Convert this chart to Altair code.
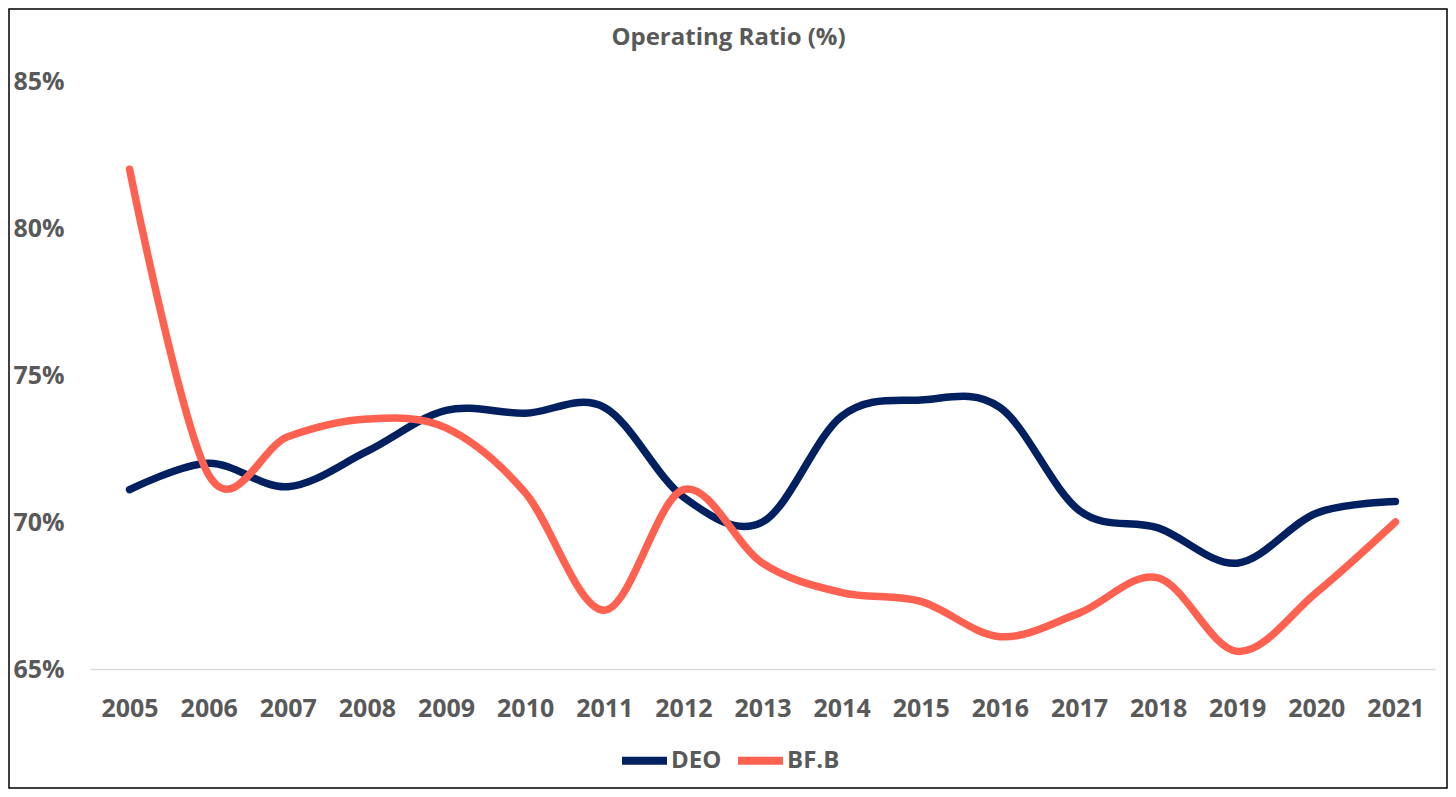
import altair as alt
import pandas as pd

years = ["2005", "2006", "2007", "2008", "2009", "2010", "2011", "2012", "2013",
         "2014", "2015", "2016", "2017", "2018", "2019", "2020", "2021"]
deo = [71.1, 72.0, 71.2, 72.4, 73.8, 73.7, 73.9, 70.85, 70.0,
       73.6, 74.15, 73.9, 70.4, 69.8, 68.6, 70.3, 70.7]
bfb = [82.0, 71.6, 72.9, 73.5, 73.2, 71.0, 67.0, 71.1, 68.6,
       67.6, 67.3, 66.1, 66.9, 68.1, 65.6, 67.6, 70.0]
series = ["DEO", "BF.B"]
colors = ["#002060", "#FF6150"]
y_ticks = [0.65, 0.70, 0.75, 0.80, 0.85]

rows = []
for name, vals in zip(series, [deo, bfb]):
    for yr, v in zip(years, vals):
        rows.append({"Year": yr, "Company": name, "Ratio": v / 100})
df = pd.DataFrame(rows)

W, H = 1345, 588
PAD_L, PAD_T, PAD_R, PAD_B = 82, 73, 13, 120
TXT = "#595959"
FONT = "Open Sans"

lines = alt.Chart(df).mark_line(
    strokeWidth=7.5, interpolate="cardinal", tension=0, strokeCap="round", strokeJoin="round"
).encode(
    x=alt.X("Year:O", sort=years,
            scale=alt.Scale(type="point", padding=0.5),
            axis=alt.Axis(title=None, labelAngle=0, ticks=False, tickSize=0, labelPadding=27,
                          labelFontSize=25, labelFontWeight="bold", labelColor=TXT, labelFont=FONT,
                          domainColor="#D9D9D9", domainWidth=1.3, grid=False)),
    y=alt.Y("Ratio:Q",
            scale=alt.Scale(domain=[0.65, 0.85], nice=False, zero=False),
            axis=alt.Axis(title=None, format=".0%", values=y_ticks, grid=False, domain=False,
                          ticks=False, tickSize=0, labelAlign="left", labelPadding=77,
                          labelBaseline="middle", labelFontSize=25, labelFontWeight="bold",
                          labelColor=TXT, labelFont=FONT)),
    color=alt.Color("Company:N", sort=series,
                    scale=alt.Scale(domain=series, range=colors),
                    legend=alt.Legend(title=None, orient="none", legendX=528, legendY=653,
                                      direction="horizontal", symbolType="stroke",
                                      symbolSize=2025, symbolStrokeWidth=8,
                                      labelFontSize=24, labelFontWeight="bold", labelColor=TXT,
                                      labelFont=FONT, labelOffset=0, columnPadding=0)),
)

frame = alt.Chart(pd.DataFrame({"k": [0]})).mark_rect(
    filled=False, stroke="black", strokeWidth=1.5
).encode(
    x=alt.value(-PAD_L + 1), y=alt.value(-PAD_T + 1),
    x2=alt.value(W + PAD_R - 1), y2=alt.value(H + PAD_B - 1),
)

chart = alt.layer(frame, lines).properties(
    width=W, height=H,
    title=alt.TitleParams("Operating Ratio (%)", fontSize=24, fontWeight="bold", color=TXT,
                          font=FONT, anchor="middle", dx=-34, offset=-42),
    autosize=alt.AutoSizeParams(type="none"),
    padding={"left": PAD_L, "top": PAD_T, "right": PAD_R, "bottom": PAD_B},
    background="white",
).configure_view(stroke=None)

chart.save("out.html", embed_options={"renderer": "svg", "actions": False})
